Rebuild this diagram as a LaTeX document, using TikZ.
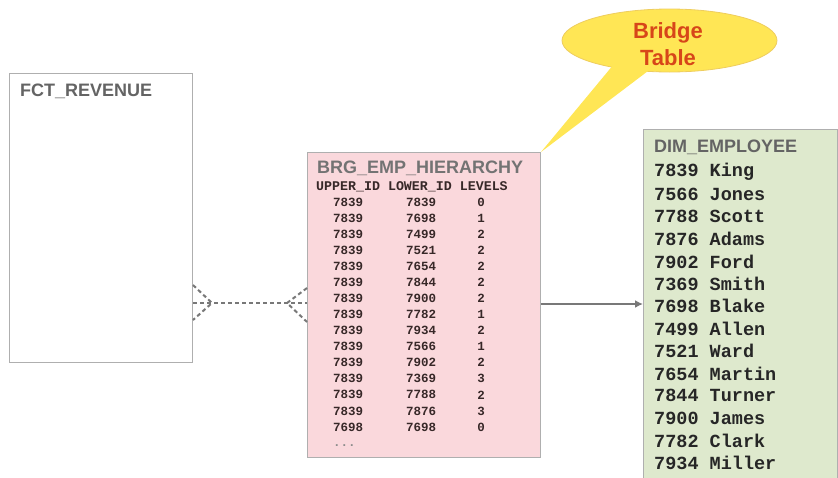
\documentclass[tikz,border=0pt]{standalone}
\usepackage{fontspec}
\setmainfont{Liberation Sans}
\newfontfamily\monof{Liberation Mono}
\usetikzlibrary{arrows.meta}
\definecolor{brgfill}{RGB}{250,216,220}
\definecolor{dimfill}{RGB}{222,233,205}
\definecolor{boxline}{RGB}{175,175,175}
\definecolor{titlegray}{RGB}{100,100,100}
\definecolor{callfill}{RGB}{255,230,85}
\definecolor{calledge}{RGB}{238,205,95}
\definecolor{callred}{RGB}{215,70,25}
\definecolor{datadark}{RGB}{55,40,40}
\definecolor{linkgray}{RGB}{120,120,120}
\tikzset{
  tablebox/.style={draw=boxline, line width=1pt, anchor=north west, inner sep=0pt},
  tabtitle/.style={anchor=west, inner sep=0pt, text=titlegray, font=\fontsize{18}{18}\selectfont\bfseries},
  brgcell/.style={inner sep=0pt, text=datadark, font=\monof\fontsize{12.5}{12.5}\selectfont\bfseries},
  dimrow/.style={anchor=west, inner sep=0pt, text=black!85, font=\monof\fontsize{18.5}{18.5}\selectfont\bfseries},
  rel/.style={draw=linkgray, line width=2pt, dash pattern=on 4pt off 3pt},
}
\begin{document}
\begin{tikzpicture}[x=1pt,y=-1pt]
\useasboundingbox (0,0) rectangle (838,477);
% tables
\node[tablebox, fill=white, minimum width=183pt, minimum height=289pt] (fct) at (9,73) {};
\node[tabtitle] (fcttitle) at (20,91) {FCT\_REVENUE};

\node[tablebox, fill=brgfill, minimum width=233pt, minimum height=305pt] (brg) at (307,152) {};
\node[tabtitle, text=black!55] (brgtitle) at (317,168) {BRG\_EMP\_HIERARCHY};
\node[brgcell, anchor=west, font=\monof\fontsize{13.3}{13.3}\selectfont\bfseries] (hdr) at (316,187) {UPPER\_ID LOWER\_ID LEVELS};
\foreach \u/\l/\v [count=\i from 0] in {7839/7839/0,7839/7698/1,7839/7499/2,7839/7521/2,7839/7654/2,7839/7844/2,7839/7900/2,7839/7782/1,7839/7934/2,7839/7566/1,7839/7902/2,7839/7369/3,7839/7788/2,7839/7876/3,7698/7698/0}{
  \node[brgcell] (u\i) at (348,{202+16.07*\i}) {\u};
  \node[brgcell] (l\i) at (421,{202+16.07*\i}) {\l};
  \node[brgcell] (v\i) at (481,{202+16.07*\i}) {\v};
}
\node[brgcell, anchor=west, text=black!45] (dots) at (333,446) {...};

\node[tablebox, fill=dimfill, minimum width=194pt, minimum height=352pt] (dim) at (643,129) {};
\node[tabtitle] (dimtitle) at (654,147) {DIM\_EMPLOYEE};
\foreach \t [count=\i from 0] in {7839 King,7566 Jones,7788 Scott,7876 Adams,7902 Ford,7369 Smith,7698 Blake,7499 Allen,7521 Ward,7654 Martin,7844 Turner,7900 James,7782 Clark,7934 Miller}{
  \node[dimrow] (d\i) at (654,{172+22.38*\i}) {\t};
}

% relationship FCT -- BRG (crow's feet)
\coordinate (relmid) at (0,303);
\coordinate (fcttop) at (0,285);
\coordinate (fctbot) at (0,320);
\coordinate (brgtop) at (0,288);
\coordinate (brgbot) at (0,322);
\coordinate (lfoot) at (212,303);
\coordinate (rfoot) at (287,303);
\draw[rel] (fct.east |- relmid) -- (brg.west |- relmid);
\draw[rel] (fct.east |- fcttop) -- (lfoot) -- (fct.east |- fctbot);
\draw[rel] (brg.west |- brgtop) -- (rfoot) -- (brg.west |- brgbot);

% arrow BRG -> DIM
\coordinate (arrowy) at (0,304);
\draw[linkgray, line width=2pt, -{Latex[length=8pt,width=8pt]}] (brg.east |- arrowy) -- (dim.west |- arrowy);

% callout
\filldraw[fill=callfill, draw=calledge, line width=0.8pt] (669.5,40.5) ellipse [x radius=107.5, y radius=31.5];
\fill[callfill] (614,64) -- (brg.north east) -- (652,68) -- cycle;
\node[align=center, inner sep=0pt, text=callred, font=\fontsize{22}{27}\selectfont\bfseries] (bridge) at (668,44) {Bridge\\Table};
\end{tikzpicture}
\end{document}
